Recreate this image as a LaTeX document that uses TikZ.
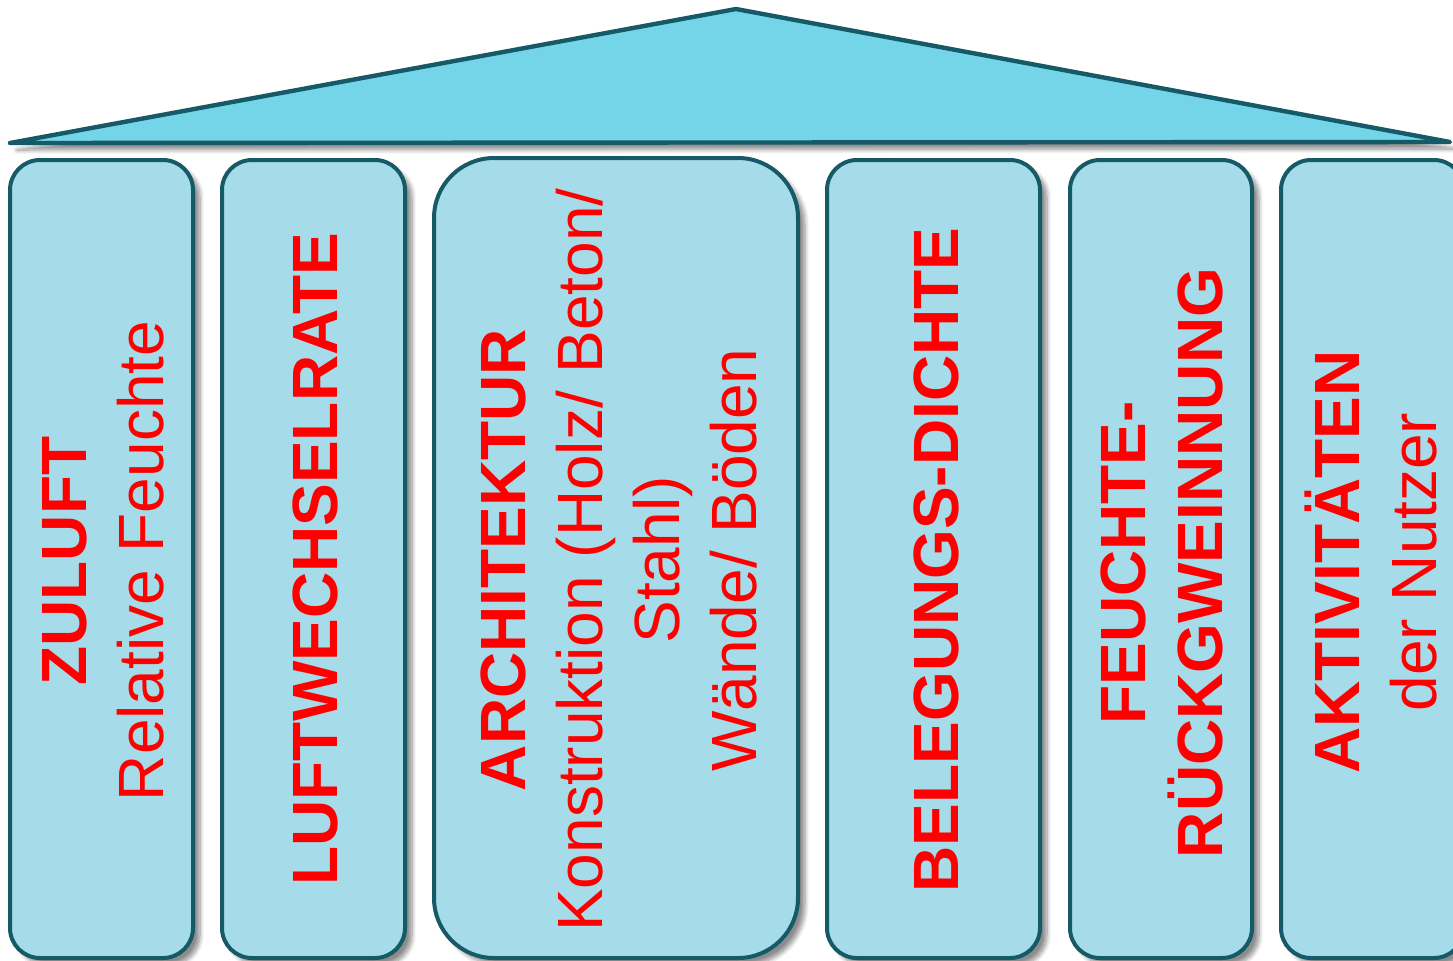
\documentclass[tikz,border=0pt]{standalone}
\usepackage{fontspec}
\setmainfont{Liberation Sans}
\usetikzlibrary{shadows.blur}
\definecolor{rim}{HTML}{165967}
\definecolor{roofblue}{HTML}{74D4E8}
\definecolor{pillarblue}{HTML}{A6DCE9}
\tikzset{
  shade/.style={blur shadow={shadow xshift=3.5pt,shadow yshift=-3.5pt,shadow blur steps=8,shadow opacity=45}},
  roof/.style={draw=rim,line width=2.2pt,line join=round,fill=roofblue,shade},
  pillar/.style={draw=rim,line width=2pt,fill=pillarblue,rounded corners=15pt,shade},
  lbl/.style={rotate=90,text=red,align=center,font=\fontsize{32}{38.5}\selectfont,inner sep=0pt}
}
\begin{document}
\begin{tikzpicture}[x=0.5pt,y=-0.5pt]
  \useasboundingbox (0,0) rectangle (1453,960);
  \begin{scope}
    \clip (0,0) rectangle (1453,960);
    % dach
    \draw[roof] (10,143)--(736,9)--(1450,142)--cycle;
    % saeulen
    \draw[pillar] (10,160) rectangle (193,958);
    \draw[pillar] (222,160) rectangle (405,958);
    \draw[pillar,rounded corners=30pt] (434,158) rectangle (798,958);
    \draw[pillar] (827,160) rectangle (1040,958);
    \draw[pillar] (1070,160) rectangle (1252,958);
    \draw[pillar] (1281,160) rectangle (1464,958);
    % beschriftung
    \node[lbl] (zuluft) at (103,561) {\textbf{ZULUFT}\\Relative Feuchte};
    \node[lbl] (luft) at (315,559) {\textbf{LUFTWECHSELRATE}};
    \node[lbl] (arch) at (619,560) {\textbf{ARCHITEKTUR}\\Konstruktion (Holz/ Beton/\\Stahl)\\Wände/ Böden};
    \node[lbl] (beleg) at (936,560) {\textbf{BELEGUNGS-DICHTE}};
    \node[lbl] (rueck) at (1162,563) {\textbf{FEUCHTE-}\\\textbf{RÜCKGWEINNUNG}};
    \node[lbl] (akt) at (1371,562) {\textbf{AKTIVITÄTEN}\\der Nutzer};
  \end{scope}
\end{tikzpicture}
\end{document}
